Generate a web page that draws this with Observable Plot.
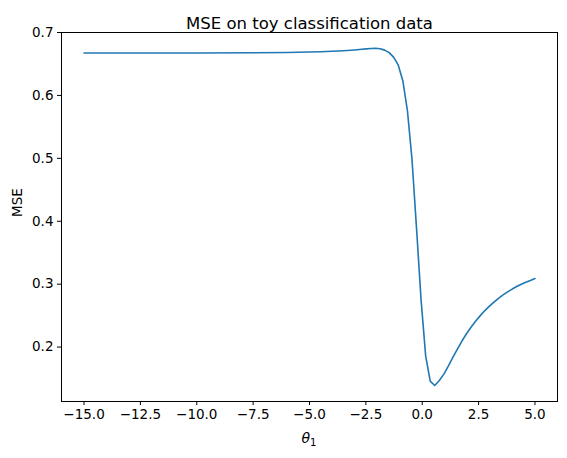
<!DOCTYPE html>
<html>
<head>
<meta charset="utf-8">
<script src="https://cdn.jsdelivr.net/npm/d3@7"></script>
<script src="https://cdn.jsdelivr.net/npm/@observablehq/plot@0.6"></script>
<style>
  body { margin: 0; background: #fff; }
  #chart svg { display: block; }
</style>
</head>
<body>
<div id="chart"></div>
<script>
const theta = [-15, -12.5, -10, -7.5, -6, -5, -4.5, -4, -3.5, -3, -2.677, -2.475, -2.273,
  -2.071, -1.869, -1.667, -1.465, -1.263, -1.061, -0.859, -0.657, -0.455, -0.253, -0.051,
  0.152, 0.354, 0.556, 0.758, 0.960, 1.162, 1.364, 1.566, 1.768, 1.970, 2.172, 2.374,
  2.576, 2.778, 2.980, 3.182, 3.384, 3.586, 3.788, 3.990, 4.192, 4.394, 4.596, 4.798, 5.0];
const mse = [0.6675, 0.6675, 0.6675, 0.6678, 0.6683, 0.6690, 0.6695, 0.6702, 0.6711, 0.6723,
  0.6733, 0.6740, 0.6746, 0.6749, 0.6742, 0.6720, 0.6680, 0.6605, 0.6480, 0.6230, 0.5760,
  0.4990, 0.3890, 0.2750, 0.1860, 0.1460, 0.1390, 0.1470, 0.1570, 0.1700, 0.1840, 0.1970,
  0.2100, 0.2215, 0.2320, 0.2415, 0.2500, 0.2580, 0.2650, 0.2715, 0.2775, 0.2830, 0.2878,
  0.2922, 0.2962, 0.2998, 0.3030, 0.3060, 0.3090];
const xTicks = [-15, -12.5, -10, -7.5, -5, -2.5, 0, 2.5, 5];
const yTicks = [0.2, 0.3, 0.4, 0.5, 0.6, 0.7];
const title = "MSE on toy classification data";
const yLabel = "MSE";

const data = theta.map((t, i) => ({theta: t, mse: mse[i]}));
const font = "DejaVu Sans, sans-serif";

const plot = Plot.plot({
  width: 567,
  height: 458,
  marginLeft: 61,
  marginRight: 10,
  marginTop: 32,
  marginBottom: 57,
  style: {fontFamily: font, fontSize: "13.5px", color: "#000", background: "#fff", overflow: "visible"},
  x: {domain: [-16, 6], label: null},
  y: {domain: [0.1135, 0.7], label: null},
  marks: [
    Plot.axisX({ticks: xTicks, tickFormat: d3.format(".1f"), tickSize: 4, tickPadding: 4, label: null, stroke: "#000"}),
    Plot.axisY({ticks: yTicks, tickFormat: d3.format(".1f"), tickSize: 4, tickPadding: 4, label: null, stroke: "#000"}),
    Plot.line(data, {x: "theta", y: "mse", stroke: "#1f77b4", strokeWidth: 1.6}),
    Plot.frame({stroke: "#000", strokeWidth: 1}),
    Plot.text([title], {frameAnchor: "top", dy: -15, text: d => d, fontSize: 16.5, fill: "#000"}),
    Plot.text([yLabel], {frameAnchor: "left", dx: -44, rotate: -90, text: d => d, fontSize: 13.5, fill: "#000"})
  ]
});
document.getElementById("chart").appendChild(plot);

// x-axis label: italic theta with subscript 1
const svg = d3.select(plot);
const lbl = svg.append("text")
  .attr("x", 61 + (567 - 61 - 10) / 2)
  .attr("y", 443)
  .attr("text-anchor", "middle")
  .attr("font-family", font)
  .attr("font-size", 14)
  .attr("fill", "#000");
lbl.append("tspan").attr("font-style", "italic").text("θ");
lbl.append("tspan").attr("font-size", 10).attr("dy", 3).text("1");
</script>
</body>
</html>
